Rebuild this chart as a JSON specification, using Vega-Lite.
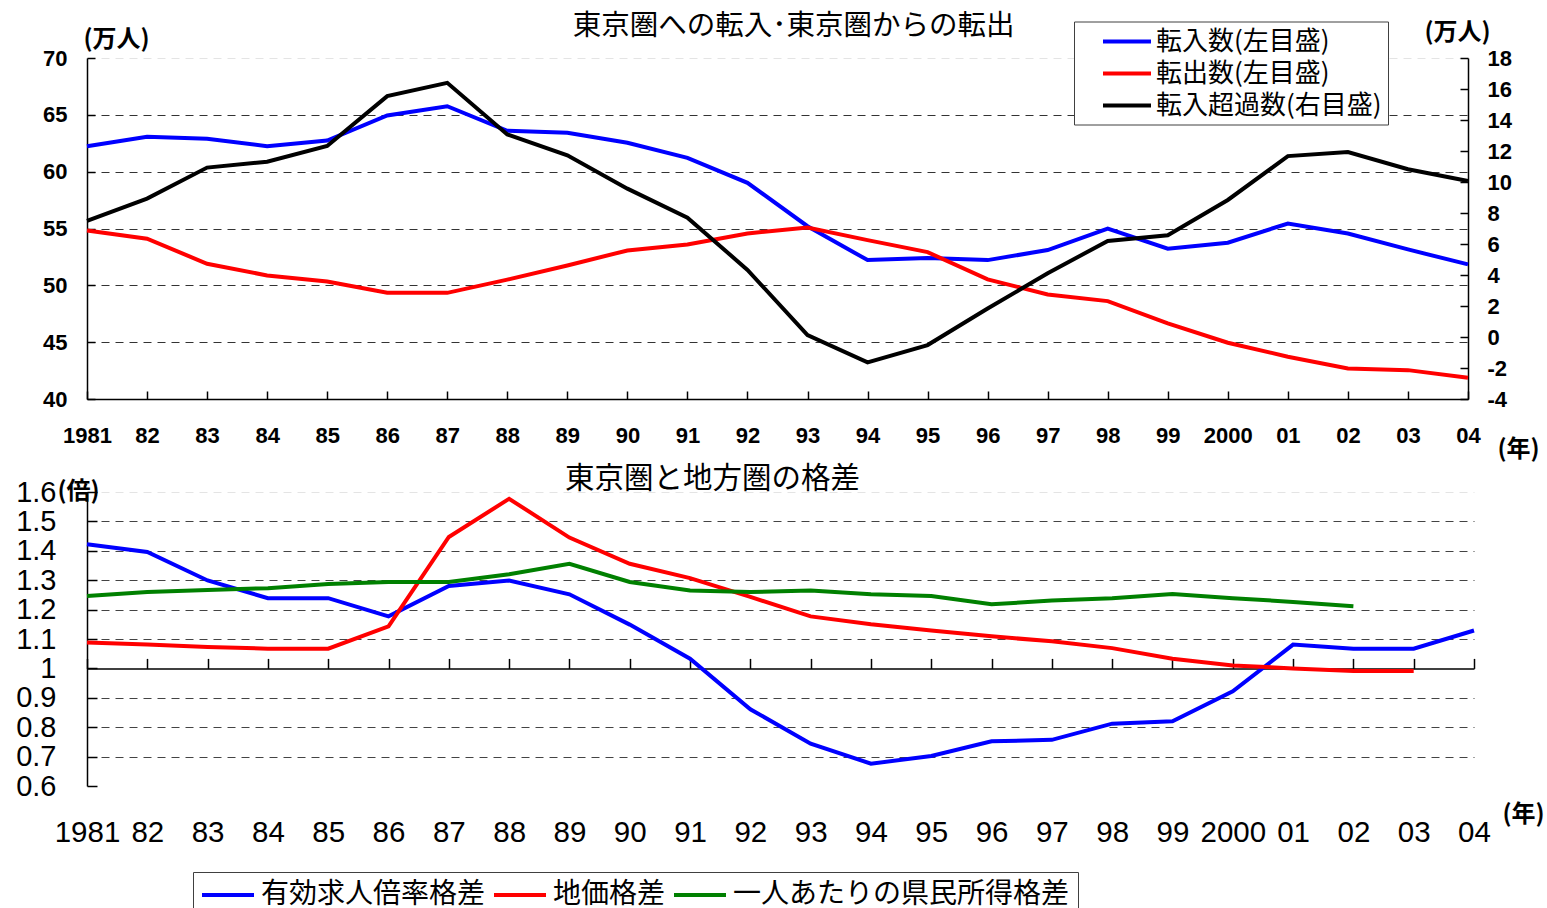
{
  "$schema": "https://vega.github.io/schema/vega-lite/v6.json",
  "padding": {"left": 15, "top": 11, "right": 0, "bottom": 0},
  "bounds": "flush",
  "spacing": 93,
  "background": "white",
  "config": {
    "view": {"stroke": null},
    "axis": {"domainColor": "black", "tickColor": "black", "labelColor": "black", "titleColor": "black", "domainWidth": 1.5, "tickWidth": 1.5, "labelFlush": false, "labelOverlap": false},
    "title": {"font": "Noto Sans CJK JP", "fontSize": 28.5, "fontWeight": "normal", "color": "black", "anchor": "middle"},
    "line": {"strokeWidth": 4}
  },
  "datasets": {
    "inout": [
      {"year": 1981, "series": "転入数(左目盛)", "value": 62.24},
      {"year": 1982, "series": "転入数(左目盛)", "value": 63.07},
      {"year": 1983, "series": "転入数(左目盛)", "value": 62.9},
      {"year": 1984, "series": "転入数(左目盛)", "value": 62.24},
      {"year": 1985, "series": "転入数(左目盛)", "value": 62.74},
      {"year": 1986, "series": "転入数(左目盛)", "value": 64.94},
      {"year": 1987, "series": "転入数(左目盛)", "value": 65.76},
      {"year": 1988, "series": "転入数(左目盛)", "value": 63.6},
      {"year": 1989, "series": "転入数(左目盛)", "value": 63.42},
      {"year": 1990, "series": "転入数(左目盛)", "value": 62.54},
      {"year": 1991, "series": "転入数(左目盛)", "value": 61.22},
      {"year": 1992, "series": "転入数(左目盛)", "value": 59.02},
      {"year": 1993, "series": "転入数(左目盛)", "value": 55.2},
      {"year": 1994, "series": "転入数(左目盛)", "value": 52.22},
      {"year": 1995, "series": "転入数(左目盛)", "value": 52.4},
      {"year": 1996, "series": "転入数(左目盛)", "value": 52.22},
      {"year": 1997, "series": "転入数(左目盛)", "value": 53.1},
      {"year": 1998, "series": "転入数(左目盛)", "value": 54.98},
      {"year": 1999, "series": "転入数(左目盛)", "value": 53.22},
      {"year": 2000, "series": "転入数(左目盛)", "value": 53.75},
      {"year": 2001, "series": "転入数(左目盛)", "value": 55.44},
      {"year": 2002, "series": "転入数(左目盛)", "value": 54.56},
      {"year": 2003, "series": "転入数(左目盛)", "value": 53.16},
      {"year": 2004, "series": "転入数(左目盛)", "value": 51.84},
      {"year": 1981, "series": "転出数(左目盛)", "value": 54.83},
      {"year": 1982, "series": "転出数(左目盛)", "value": 54.1},
      {"year": 1983, "series": "転出数(左目盛)", "value": 51.9},
      {"year": 1984, "series": "転出数(左目盛)", "value": 50.87},
      {"year": 1985, "series": "転出数(左目盛)", "value": 50.34},
      {"year": 1986, "series": "転出数(左目盛)", "value": 49.34},
      {"year": 1987, "series": "転出数(左目盛)", "value": 49.34},
      {"year": 1988, "series": "転出数(左目盛)", "value": 50.5},
      {"year": 1989, "series": "転出数(左目盛)", "value": 51.75},
      {"year": 1990, "series": "転出数(左目盛)", "value": 53.07},
      {"year": 1991, "series": "転出数(左目盛)", "value": 53.6},
      {"year": 1992, "series": "転出数(左目盛)", "value": 54.56},
      {"year": 1993, "series": "転出数(左目盛)", "value": 55.09},
      {"year": 1994, "series": "転出数(左目盛)", "value": 53.98},
      {"year": 1995, "series": "転出数(左目盛)", "value": 52.92},
      {"year": 1996, "series": "転出数(左目盛)", "value": 50.52},
      {"year": 1997, "series": "転出数(左目盛)", "value": 49.2},
      {"year": 1998, "series": "転出数(左目盛)", "value": 48.61},
      {"year": 1999, "series": "転出数(左目盛)", "value": 46.65},
      {"year": 2000, "series": "転出数(左目盛)", "value": 44.95},
      {"year": 2001, "series": "転出数(左目盛)", "value": 43.72},
      {"year": 2002, "series": "転出数(左目盛)", "value": 42.69},
      {"year": 2003, "series": "転出数(左目盛)", "value": 42.54},
      {"year": 2004, "series": "転出数(左目盛)", "value": 41.87}
    ],
    "net": [
      {"year": 1981, "series": "転入超過数(右目盛)", "value": 7.49},
      {"year": 1982, "series": "転入超過数(右目盛)", "value": 8.93},
      {"year": 1983, "series": "転入超過数(右目盛)", "value": 10.93},
      {"year": 1984, "series": "転入超過数(右目盛)", "value": 11.31},
      {"year": 1985, "series": "転入超過数(右目盛)", "value": 12.32},
      {"year": 1986, "series": "転入超過数(右目盛)", "value": 15.54},
      {"year": 1987, "series": "転入超過数(右目盛)", "value": 16.4},
      {"year": 1988, "series": "転入超過数(右目盛)", "value": 13.07},
      {"year": 1989, "series": "転入超過数(右目盛)", "value": 11.72},
      {"year": 1990, "series": "転入超過数(右目盛)", "value": 9.57},
      {"year": 1991, "series": "転入超過数(右目盛)", "value": 7.7},
      {"year": 1992, "series": "転入超過数(右目盛)", "value": 4.33},
      {"year": 1993, "series": "転入超過数(右目盛)", "value": 0.12},
      {"year": 1994, "series": "転入超過数(右目盛)", "value": -1.64},
      {"year": 1995, "series": "転入超過数(右目盛)", "value": -0.52},
      {"year": 1996, "series": "転入超過数(右目盛)", "value": 1.84},
      {"year": 1997, "series": "転入超過数(右目盛)", "value": 4.11},
      {"year": 1998, "series": "転入超過数(右目盛)", "value": 6.2},
      {"year": 1999, "series": "転入超過数(右目盛)", "value": 6.56},
      {"year": 2000, "series": "転入超過数(右目盛)", "value": 8.84},
      {"year": 2001, "series": "転入超過数(右目盛)", "value": 11.67},
      {"year": 2002, "series": "転入超過数(右目盛)", "value": 11.93},
      {"year": 2003, "series": "転入超過数(右目盛)", "value": 10.82},
      {"year": 2004, "series": "転入超過数(右目盛)", "value": 10.06}
    ],
    "gap": [
      {"year": 1981, "series": "有効求人倍率格差", "value": 1.422},
      {"year": 1982, "series": "有効求人倍率格差", "value": 1.396},
      {"year": 1983, "series": "有効求人倍率格差", "value": 1.299},
      {"year": 1984, "series": "有効求人倍率格差", "value": 1.239},
      {"year": 1985, "series": "有効求人倍率格差", "value": 1.239},
      {"year": 1986, "series": "有効求人倍率格差", "value": 1.177},
      {"year": 1987, "series": "有効求人倍率格差", "value": 1.28},
      {"year": 1988, "series": "有効求人倍率格差", "value": 1.299},
      {"year": 1989, "series": "有効求人倍率格差", "value": 1.252},
      {"year": 1990, "series": "有効求人倍率格差", "value": 1.149},
      {"year": 1991, "series": "有効求人倍率格差", "value": 1.033},
      {"year": 1992, "series": "有効求人倍率格差", "value": 0.861},
      {"year": 1993, "series": "有効求人倍率格差", "value": 0.744},
      {"year": 1994, "series": "有効求人倍率格差", "value": 0.676},
      {"year": 1995, "series": "有効求人倍率格差", "value": 0.702},
      {"year": 1996, "series": "有効求人倍率格差", "value": 0.752},
      {"year": 1997, "series": "有効求人倍率格差", "value": 0.757},
      {"year": 1998, "series": "有効求人倍率格差", "value": 0.812},
      {"year": 1999, "series": "有効求人倍率格差", "value": 0.82},
      {"year": 2000, "series": "有効求人倍率格差", "value": 0.922},
      {"year": 2001, "series": "有効求人倍率格差", "value": 1.081},
      {"year": 2002, "series": "有効求人倍率格差", "value": 1.067},
      {"year": 2003, "series": "有効求人倍率格差", "value": 1.067},
      {"year": 2004, "series": "有効求人倍率格差", "value": 1.129},
      {"year": 1981, "series": "地価格差", "value": 1.088},
      {"year": 1982, "series": "地価格差", "value": 1.081},
      {"year": 1983, "series": "地価格差", "value": 1.073},
      {"year": 1984, "series": "地価格差", "value": 1.067},
      {"year": 1985, "series": "地価格差", "value": 1.067},
      {"year": 1986, "series": "地価格差", "value": 1.143},
      {"year": 1987, "series": "地価格差", "value": 1.447},
      {"year": 1988, "series": "地価格差", "value": 1.577},
      {"year": 1989, "series": "地価格差", "value": 1.445},
      {"year": 1990, "series": "地価格差", "value": 1.356},
      {"year": 1991, "series": "地価格差", "value": 1.307},
      {"year": 1992, "series": "地価格差", "value": 1.243},
      {"year": 1993, "series": "地価格差", "value": 1.177},
      {"year": 1994, "series": "地価格差", "value": 1.15},
      {"year": 1995, "series": "地価格差", "value": 1.129},
      {"year": 1996, "series": "地価格差", "value": 1.109},
      {"year": 1997, "series": "地価格差", "value": 1.092},
      {"year": 1998, "series": "地価格差", "value": 1.069},
      {"year": 1999, "series": "地価格差", "value": 1.033},
      {"year": 2000, "series": "地価格差", "value": 1.01},
      {"year": 2001, "series": "地価格差", "value": 1.0},
      {"year": 2002, "series": "地価格差", "value": 0.991},
      {"year": 2003, "series": "地価格差", "value": 0.991},
      {"year": 1981, "series": "一人あたりの県民所得格差", "value": 1.246},
      {"year": 1982, "series": "一人あたりの県民所得格差", "value": 1.26},
      {"year": 1983, "series": "一人あたりの県民所得格差", "value": 1.267},
      {"year": 1984, "series": "一人あたりの県民所得格差", "value": 1.273},
      {"year": 1985, "series": "一人あたりの県民所得格差", "value": 1.287},
      {"year": 1986, "series": "一人あたりの県民所得格差", "value": 1.294},
      {"year": 1987, "series": "一人あたりの県民所得格差", "value": 1.294},
      {"year": 1988, "series": "一人あたりの県民所得格差", "value": 1.32},
      {"year": 1989, "series": "一人あたりの県民所得格差", "value": 1.356},
      {"year": 1990, "series": "一人あたりの県民所得格差", "value": 1.294},
      {"year": 1991, "series": "一人あたりの県民所得格差", "value": 1.265},
      {"year": 1992, "series": "一人あたりの県民所得格差", "value": 1.26},
      {"year": 1993, "series": "一人あたりの県民所得格差", "value": 1.265},
      {"year": 1994, "series": "一人あたりの県民所得格差", "value": 1.252},
      {"year": 1995, "series": "一人あたりの県民所得格差", "value": 1.246},
      {"year": 1996, "series": "一人あたりの県民所得格差", "value": 1.218},
      {"year": 1997, "series": "一人あたりの県民所得格差", "value": 1.231},
      {"year": 1998, "series": "一人あたりの県民所得格差", "value": 1.239},
      {"year": 1999, "series": "一人あたりの県民所得格差", "value": 1.253},
      {"year": 2000, "series": "一人あたりの県民所得格差", "value": 1.239},
      {"year": 2001, "series": "一人あたりの県民所得格差", "value": 1.226},
      {"year": 2002, "series": "一人あたりの県民所得格差", "value": 1.211}
    ]
  },
  "resolve": {"scale": {"color": "independent", "x": "independent", "y": "independent"}, "legend": {"color": "independent"}},
  "vconcat": [
    {
      "width": 1381,
      "height": 341,
      "title": {"text": "東京圏への転入･東京圏からの転出", "dx": 16, "offset": -19.5},
      "layer": [
        {
          "data": {"name": "inout"},
          "mark": {"type": "line", "strokeWidth": 4},
          "encoding": {
            "x": {"field": "year", "type": "quantitative", "scale": {"domain": [1981, 2004], "nice": false, "zero": false},
              "axis": {"values": [1981,1982,1983,1984,1985,1986,1987,1988,1989,1990,1991,1992,1993,1994,1995,1996,1997,1998,1999,2000,2001,2002,2003,2004],
                "labelExpr": "datum.value == 1981 || datum.value == 2000 ? format(datum.value, 'd') : slice(format(datum.value, 'd'), 2)",
                "labelFont": "Liberation Sans", "labelFontWeight": "bold", "labelFontSize": 22, "labelBaseline": "middle", "labelPadding": 44,
                "tickSize": -8, "grid": false,
                "title": "(年)", "titleFont": "Noto Sans CJK JP", "titleFontWeight": "bold", "titleFontSize": 24, "titleAngle": 0,
                "titleX": 1431, "titleY": 50, "titleAlign": "center", "titleBaseline": "middle"}},
            "y": {"field": "value", "type": "quantitative", "scale": {"domain": [40, 70], "nice": false, "zero": false},
              "axis": {"values": [40,45,50,55,60,65,70],
                "labelFont": "Liberation Sans", "labelFontWeight": "bold", "labelFontSize": 22, "labelPadding": 28, "tickSize": -8,
                "grid": true, "gridDash": [8, 6], "gridWidth": 1,
                "gridColor": {"condition": {"test": "datum.value >= 70", "value": "#e4e4e4"}, "value": "#333333"},
                "gridOpacity": {"condition": {"test": "datum.value <= 40", "value": 0}, "value": 1},
                "title": "(万人)", "titleFont": "Noto Sans CJK JP", "titleFontWeight": "bold", "titleFontSize": 24, "titleAngle": 0,
                "titleX": 29, "titleY": -18.5, "titleAlign": "center", "titleBaseline": "middle"}},
            "color": {"field": "series", "type": "nominal",
              "scale": {"domain": ["転入数(左目盛)", "転出数(左目盛)", "転入超過数(右目盛)"], "range": ["#0000FF", "#FF0000", "#000000"]},
              "legend": {"orient": "none", "legendX": 987, "legendY": -36.5, "title": null, "direction": "vertical",
                "symbolType": "M-2,0H2", "symbolSize": 576, "symbolStrokeWidth": 4,
                "labelFont": "Noto Sans CJK JP", "labelFontSize": 26, "labelColor": "black", "labelLimit": 0,
                "padding": 6, "rowPadding": 5, "symbolOffset": 33, "labelOffset": 15,
                "strokeColor": "#404040", "fillColor": "white"}}
          }
        },
        {
          "data": {"name": "net"},
          "mark": {"type": "line", "strokeWidth": 4},
          "encoding": {
            "x": {"field": "year", "type": "quantitative"},
            "y": {"field": "value", "type": "quantitative", "scale": {"domain": [-4, 18], "nice": false, "zero": false},
              "axis": {"orient": "right", "values": [-4,-2,0,2,4,6,8,10,12,14,16,18], "labelExpr": "'' + datum.value",
                "labelFont": "Liberation Sans", "labelFontWeight": "bold", "labelFontSize": 22, "labelPadding": 27, "tickSize": -8,
                "grid": false,
                "title": "(万人)", "titleFont": "Noto Sans CJK JP", "titleFontWeight": "bold", "titleFontSize": 24, "titleAngle": 0,
                "titleX": -11, "titleY": -25.5, "titleAlign": "center", "titleBaseline": "middle"}},
            "color": {"field": "series", "type": "nominal",
              "scale": {"domain": ["転入数(左目盛)", "転出数(左目盛)", "転入超過数(右目盛)"], "range": ["#0000FF", "#FF0000", "#000000"]}}
          }
        }
      ],
      "resolve": {"scale": {"y": "independent"}}
    },
    {
      "width": 1387,
      "height": 294,
      "title": {"text": "東京圏と地方圏の格差", "dx": -68, "offset": -16, "fontSize": 29.5},
      "layer": [
        {
          "data": {"name": "gap"},
          "mark": {"type": "line", "strokeWidth": 4},
          "encoding": {
            "x": {"field": "year", "type": "quantitative", "scale": {"domain": [1981, 2004], "nice": false, "zero": false},
              "axis": {"values": [1981,1982,1983,1984,1985,1986,1987,1988,1989,1990,1991,1992,1993,1994,1995,1996,1997,1998,1999,2000,2001,2002,2003,2004],
                "labelExpr": "datum.value == 1981 || datum.value == 2000 ? format(datum.value, 'd') : slice(format(datum.value, 'd'), 2)",
                "labelFont": "Liberation Sans", "labelFontSize": 29.5, "labelBaseline": "middle", "labelPadding": 46,
                "ticks": false, "domain": false, "grid": false,
                "title": "(年)", "titleFont": "Noto Sans CJK JP", "titleFontWeight": "bold", "titleFontSize": 24, "titleAngle": 0,
                "titleX": 1436, "titleY": 28, "titleAlign": "center", "titleBaseline": "middle"}},
            "y": {"field": "value", "type": "quantitative", "scale": {"domain": [0.6, 1.6], "nice": false, "zero": false},
              "axis": {"values": [0.6,0.7,0.8,0.9,1,1.1,1.2,1.3,1.4,1.5,1.6], "format": "~g",
                "labelFont": "Liberation Sans", "labelFontSize": 29, "labelPadding": 41, "tickSize": -10,
                "grid": true, "gridDash": [8, 6], "gridWidth": 1,
                "gridColor": {"condition": {"test": "datum.value > 1.55", "value": "#e4e4e4"}, "value": "#444444"},
                "gridOpacity": {"condition": {"test": "datum.value < 0.65 || (datum.value > 0.95 && datum.value < 1.05)", "value": 0}, "value": 1},
                "title": "(倍)", "titleFont": "Noto Sans CJK JP", "titleFontWeight": "bold", "titleFontSize": 24, "titleAngle": 0,
                "titleX": -9, "titleY": -1, "titleAlign": "center", "titleBaseline": "middle"}},
            "color": {"field": "series", "type": "nominal",
              "scale": {"domain": ["有効求人倍率格差", "地価格差", "一人あたりの県民所得格差"], "range": ["#0000FF", "#FF0000", "#008000"]},
              "legend": {"orient": "none", "legendX": 106, "legendY": 380, "title": null, "direction": "horizontal", "columns": 3,
                "symbolType": "M-2,0H2", "symbolSize": 676, "symbolStrokeWidth": 4,
                "labelFont": "Noto Sans CJK JP", "labelFontSize": 28, "labelColor": "black", "labelLimit": 0,
                "padding": 8, "symbolOffset": 12, "labelOffset": 18, "columnPadding": 0,
                "strokeColor": "#404040", "fillColor": "white"}}
          }
        },
        {
          "data": {"name": "gap"},
          "mark": {"type": "line", "opacity": 0},
          "encoding": {
            "x": {"field": "year", "type": "quantitative",
              "axis": {"orient": "top", "offset": -176.4, "values": [1981,1982,1983,1984,1985,1986,1987,1988,1989,1990,1991,1992,1993,1994,1995,1996,1997,1998,1999,2000,2001,2002,2003,2004],
                "labels": false, "tickSize": 10, "domain": true, "grid": false, "title": null}},
            "y": {"field": "value", "type": "quantitative",
              "axis": {"values": [0.6,0.7,0.8,0.9,1,1.1,1.2,1.3,1.4,1.5,1.6], "format": "~g",
                "labelFont": "Liberation Sans", "labelFontSize": 29, "labelPadding": 41, "tickSize": -10,
                "grid": true, "gridDash": [8, 6], "gridWidth": 1,
                "gridColor": {"condition": {"test": "datum.value > 1.55", "value": "#e4e4e4"}, "value": "#444444"},
                "gridOpacity": {"condition": {"test": "datum.value < 0.65 || (datum.value > 0.95 && datum.value < 1.05)", "value": 0}, "value": 1},
                "title": "(倍)", "titleFont": "Noto Sans CJK JP", "titleFontWeight": "bold", "titleFontSize": 24, "titleAngle": 0,
                "titleX": -9, "titleY": -1, "titleAlign": "center", "titleBaseline": "middle"}},
            "detail": {"field": "series"}
          }
        }
      ],
      "resolve": {"axis": {"x": "independent"}}
    }
  ]
}
